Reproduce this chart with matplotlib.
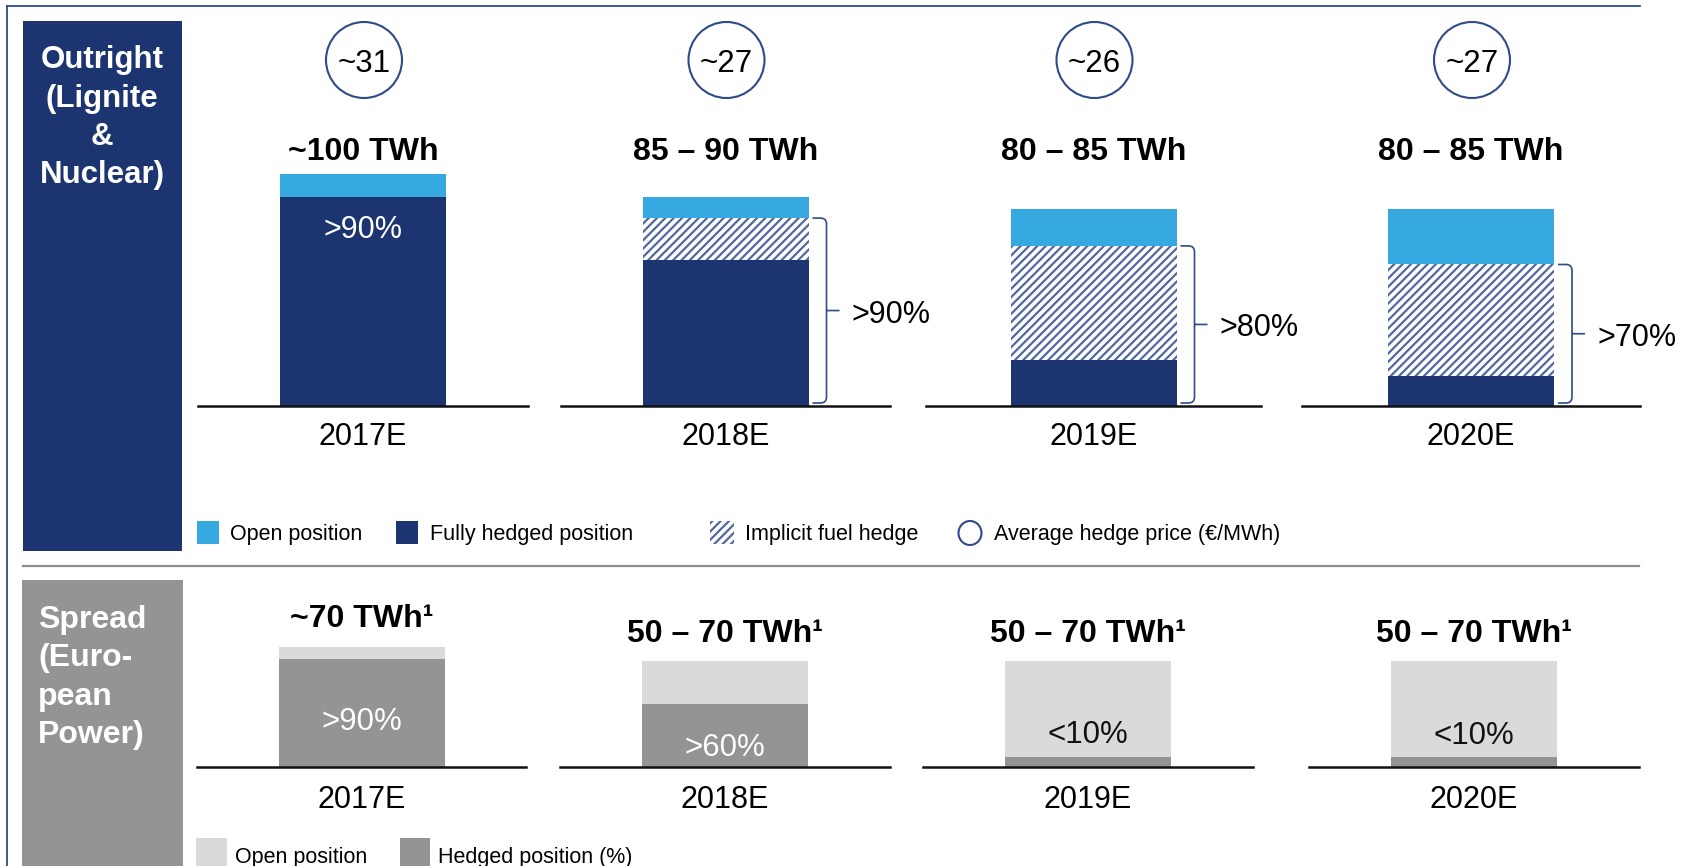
import matplotlib
matplotlib.use('Agg')
import matplotlib.pyplot as plt
from matplotlib.patches import Rectangle, Ellipse, PathPatch
from matplotlib.path import Path

plt.rcParams['font.family'] = ['Liberation Sans', 'DejaVu Sans']
plt.rcParams['hatch.linewidth'] = 1.6

# ---------------- data ----------------
years = ['2017E', '2018E', '2019E', '2020E']
hedge_price = ['~31', '~27', '~26', '~27']
outright_volume = ['~100 TWh', '85 – 90 TWh', '80 – 85 TWh', '80 – 85 TWh']
outright_full = [90, 63, 20, 13]        # fully hedged (TWh, approx)
outright_implicit = [0, 18, 49, 48]     # implicit fuel hedge
outright_open = [10, 9, 16, 24]         # open position
outright_inside_label = ['>90%', None, None, None]
outright_brace_label = [None, '>90%', '>80%', '>70%']

spread_volume = ['~70 TWh¹', '50 – 70 TWh¹', '50 – 70 TWh¹', '50 – 70 TWh¹']
spread_hedged = [63, 37, 6, 6]
spread_open = [7, 25, 56, 56]
spread_label = ['>90%', '>60%', '<10%', '<10%']

# ---------------- style ----------------
NAVY = '#1C346F'
FRAME = '#2E4A8A'
HATCH = '#5368A0'
LIGHTBLUE = '#36A9E1'
GREY = '#949494'
LIGHTGREY = '#D9DADC'
HATCH_PATTERN = '////'

W, H, DPI = 1694, 866, 100
fig = plt.figure(figsize=(W / DPI, H / DPI), dpi=DPI)


def fx(x):
    return x / W


def fy(y):
    return 1 - y / H


def ftext(x, y, s, **kw):
    kw.setdefault('va', 'baseline')
    kw.setdefault('ha', 'center')
    fig.text(fx(x), fy(y), s, **kw)


def frect(x, y, w, h, **kw):
    fig.add_artist(Rectangle((fx(x), fy(y + h)), w / W, h / H,
                             transform=fig.transFigure, **kw))


# frame lines
fig.add_artist(plt.Line2D([fx(7), fx(1640)], [fy(6), fy(6)], color=FRAME, lw=1.3,
                          transform=fig.transFigure))
fig.add_artist(plt.Line2D([fx(7), fx(7)], [fy(6), fy(866)], color=FRAME, lw=1.3,
                          transform=fig.transFigure))
# separator
fig.add_artist(plt.Line2D([fx(23), fx(1639)], [fy(566), fy(566)], color='#8C8C8C', lw=1.6,
                          transform=fig.transFigure))

# side panels
frect(23, 21, 159, 530, facecolor=NAVY, edgecolor='none')
frect(22, 580, 161, 290, facecolor=GREY, edgecolor='none')
for s, yb in zip(['Outright', '(Lignite', '&', 'Nuclear)'], [68, 107, 145, 183]):
    ftext(102, yb, s, color='white', fontsize=22.5, fontweight='bold')
for s, yb in zip(['Spread', '(Euro-', 'pean', 'Power)'], [628, 666, 705, 743]):
    ftext(38, yb, s, color='white', fontsize=23, fontweight='bold', ha='left')

# ---------------- top panel ----------------
top_spans = [(198, 528), (561, 890), (926, 1261), (1302, 1640)]
TOP_BASE, TOP_H = 406, 232   # 100 units -> 232 px
for i, (x0, x1) in enumerate(top_spans):
    ax = fig.add_axes([fx(x0), fy(TOP_BASE), (x1 - x0) / W, TOP_H / H])
    ax.set_xlim(-1, 1)
    ax.set_ylim(0, 100)
    ax.axis('off')
    wpx = x1 - x0
    bw = 2 * 166 / wpx
    ax.bar(0, outright_full[i], width=bw, color=NAVY, linewidth=0)
    if outright_implicit[i] > 0:
        ax.bar(0, outright_implicit[i], width=bw, bottom=outright_full[i],
               facecolor='white', edgecolor=HATCH, hatch=HATCH_PATTERN, linewidth=0)
    ax.bar(0, outright_open[i], width=bw,
           bottom=outright_full[i] + outright_implicit[i], color=LIGHTBLUE, linewidth=0)
    ax.axhline(0, color='#111111', lw=1.8, clip_on=False)

    cx = (x0 + x1) / 2
    # hedge price circle
    fig.add_artist(Ellipse((fx(cx + 1), fy(60)), 76 / W, 76 / H, transform=fig.transFigure,
                           facecolor='none', edgecolor=FRAME, lw=1.5))
    ftext(cx + 1, 72.5, hedge_price[i], fontsize=22.5, color='black')
    ftext(cx, 160, outright_volume[i], fontsize=23, fontweight='bold', color='black')
    ftext(cx, 445, years[i], fontsize=22, color='black')
    if outright_inside_label[i]:
        ftext(cx, 238, outright_inside_label[i], fontsize=22, color='white')

    if outright_brace_label[i]:
        d = lambda px: 2 * px / wpx
        upx = 100 / TOP_H
        ytop = outright_full[i] + outright_implicit[i]
        ybot = 3 * upx
        ymid = (ytop + ybot) / 2
        xa, xb, xc = d(87), d(101), d(114)
        rx, ry = d(6), 6 * upx
        verts = [(xa, ytop), (xb - rx, ytop), (xb, ytop), (xb, ytop - ry),
                 (xb, ybot + ry), (xb, ybot), (xb - rx, ybot), (xa, ybot),
                 (xb, ymid), (xc, ymid)]
        codes = [Path.MOVETO, Path.LINETO, Path.CURVE3, Path.CURVE3,
                 Path.LINETO, Path.CURVE3, Path.CURVE3, Path.LINETO,
                 Path.MOVETO, Path.LINETO]
        ax.add_patch(PathPatch(Path(verts, codes), facecolor='none', edgecolor=FRAME,
                               lw=1.2, clip_on=False))
        mid_px = TOP_BASE - ymid / upx
        ftext(cx + 126, mid_px + 12, outright_brace_label[i], fontsize=22,
              color='black', ha='left')

# top legend
frect(197, 521, 22, 23, facecolor=LIGHTBLUE, edgecolor='none')
ftext(230, 540, 'Open position', fontsize=15.5, ha='left')
frect(396, 521, 22, 23, facecolor=NAVY, edgecolor='none')
ftext(430, 540, 'Fully hedged position', fontsize=15.5, ha='left')
frect(710, 521, 24, 23, facecolor='white', edgecolor=HATCH, hatch=HATCH_PATTERN, linewidth=0)
ftext(745, 540, 'Implicit fuel hedge', fontsize=15.5, ha='left')
fig.add_artist(Ellipse((fx(970), fy(533)), 23 / W, 24 / H, transform=fig.transFigure,
                       facecolor='none', edgecolor=FRAME, lw=1.5))
ftext(994, 540, 'Average hedge price (€/MWh)', fontsize=15.5, ha='left')

# ---------------- bottom panel ----------------
bot_spans = [(197, 526), (560, 890), (923, 1253), (1309, 1639)]
BOT_BASE, BOT_H = 767, 120    # 70 units -> 120 px
title_base = [627, 642, 642, 642]
label_base = [730, 756, 743, 744]
label_color = ['white', 'white', '#111111', '#111111']
for i, (x0, x1) in enumerate(bot_spans):
    ax = fig.add_axes([fx(x0), fy(BOT_BASE), (x1 - x0) / W, BOT_H / H])
    ax.set_xlim(-1, 1)
    ax.set_ylim(0, 70)
    ax.axis('off')
    wpx = x1 - x0
    bw = 2 * 166 / wpx
    ax.bar(0, spread_hedged[i], width=bw, color=GREY, linewidth=0)
    ax.bar(0, spread_open[i], width=bw, bottom=spread_hedged[i], color=LIGHTGREY, linewidth=0)
    ax.axhline(0, color='#111111', lw=1.8, clip_on=False)
    cx = (x0 + x1) / 2
    ftext(cx, title_base[i], spread_volume[i], fontsize=23, fontweight='bold')
    ftext(cx, label_base[i], spread_label[i], fontsize=22.5, color=label_color[i])
    ftext(cx, 808, years[i], fontsize=22)

# bottom legend
frect(196, 838, 31, 30, facecolor=LIGHTGREY, edgecolor='none')
ftext(235, 863, 'Open position', fontsize=15.5, ha='left')
frect(400, 838, 30, 30, facecolor=GREY, edgecolor='none')
ftext(438, 863, 'Hedged position (%)', fontsize=15.5, ha='left')

fig.savefig('out.png', dpi=DPI, facecolor='white')
